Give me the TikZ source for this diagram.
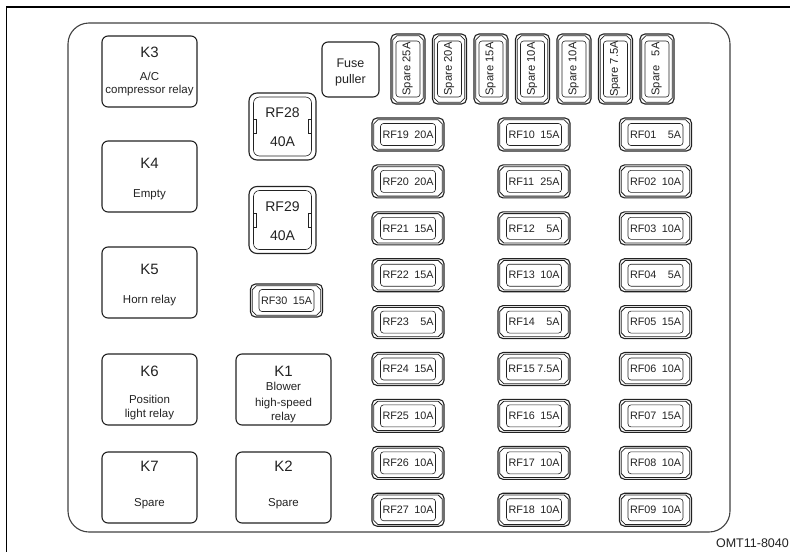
\documentclass[tikz,border=0pt]{standalone}
\usepackage{fontspec}
\setmainfont{Liberation Sans}
\usetikzlibrary{calc}
\definecolor{ink}{HTML}{222222}
\tikzset{
  relay/.style={draw=ink, line width=1.1pt, rounded corners=6pt, minimum width=95pt, minimum height=71pt, inner sep=0pt},
  klabel/.style={font=\fontsize{15}{16}\selectfont, inner sep=0pt, anchor=base, text=ink},
  desc/.style={font=\fontsize{11.5}{13}\selectfont, inner sep=0pt, anchor=base, text=ink},
  fuseout/.style={draw=ink, line width=1.1pt, rounded corners=5pt, inner sep=0pt},
  chamf/.style={draw=ink, line width=0.8pt},
  fusein/.style={draw=ink, line width=0.6pt, rounded corners=3pt, inner sep=0pt, text=ink},
  rftext/.style={font=\fontsize{10.8}{12}\selectfont},
  bigfuse/.style={draw=ink, line width=1.1pt, rounded corners=8pt, minimum width=67pt, minimum height=67pt, inner sep=0pt},
  bigin/.style={draw=ink, line width=0.6pt, rounded corners=6pt, minimum width=58pt, minimum height=59pt, inner sep=0pt},
  bigtext/.style={font=\fontsize{14}{15}\selectfont, inner sep=0pt, anchor=base, text=ink},
}
% horizontal fuse: name, x, y, left text, right text
\newcommand\rfuse[5]{%
  \node[fuseout, minimum width=72pt, minimum height=33pt] (#1) at (#2,#3) {};
  \draw[chamf, shift={(#1.center)}] (-30.2,-14.7) -- (30.2,-14.7) -- (34.2,-10.7) -- (34.2,10.7) -- (30.2,14.7) -- (-30.2,14.7) -- (-34.2,10.7) -- (-34.2,-10.7) -- cycle;
  \node[fusein, rftext, minimum width=55pt, minimum height=22pt] (#1t) at (#1.center) {\makebox[51pt]{#4\hspace{2.5pt plus 1fill}#5}};
}
% vertical spare fuse: name, x, text
\newcommand\sfuse[3]{%
  \node[fuseout, minimum width=34pt, minimum height=70pt] (#1) at (#2,69) {};
  \draw[chamf, shift={(#1.center)}] (-11.2,-33.2) -- (11.2,-33.2) -- (15.2,-29.2) -- (15.2,29.2) -- (11.2,33.2) -- (-11.2,33.2) -- (-15.2,29.2) -- (-15.2,-29.2) -- cycle;
  \node[fusein, minimum width=24pt, minimum height=56pt] (#1i) at (#1.center) {};
  \node[rotate=90, inner sep=0pt, text=ink, font=\fontsize{11.2}{12}\selectfont] (#1t) at (#1.center) {\makebox[53pt]{\strut Spare\hspace{3pt plus 1fill}#3}};
}
% big fuse: name, x, y
\newcommand\bfuse[3]{%
  \node[bigfuse] (#1) at (#2,#3) {};
  \node[bigin] (#1i) at (#1.center) {};
  \draw[ink, line width=0.6pt] ([yshift=-7pt]#1i.west) -- ++(3.5,0) -- ++(0,-14) -- ++(-3.5,0);
  \draw[ink, line width=0.6pt] ([yshift=-7pt]#1i.east) -- ++(-3.5,0) -- ++(0,-14) -- ++(3.5,0);
}
\begin{document}
\begin{tikzpicture}[x=1pt,y=-1pt]
\useasboundingbox (0,0) rectangle (790,552);
% frame lines
\coordinate (fa) at (790,7);
\coordinate (fb) at (6.5,7);
\coordinate (fc) at (6.5,552);
\draw[black, line width=1.3pt] (fa) -- (fb) -- (fc);
% outer housing
\node[draw=black!75, line width=1.1pt, rounded corners=21pt, minimum width=662pt, minimum height=509pt, inner sep=0pt] (box) at (399,277.5) {};

% relays
\node[relay] (K3) at (149.5,71.5) {};
\node[klabel] (K3a) at (149.5,57.5) {K3};
\node[desc] (K3b) at (149.5,80) {A/C};
\node[desc] (K3c) at (149.5,93) {compressor relay};

\node[relay] (K4) at (149.5,176.5) {};
\node[klabel] (K4a) at (149.5,168.5) {K4};
\node[desc] (K4b) at (149.5,197) {Empty};

\node[relay] (K5) at (149.5,282.5) {};
\node[klabel] (K5a) at (149.5,274.5) {K5};
\node[desc] (K5b) at (149.5,303) {Horn relay};

\node[relay] (K6) at (149.5,389.5) {};
\node[klabel] (K6a) at (149.5,376.5) {K6};
\node[desc] (K6b) at (149.5,403) {Position};
\node[desc] (K6c) at (149.5,417) {light relay};

\node[relay] (K7) at (149.5,487.5) {};
\node[klabel] (K7a) at (149.5,471.5) {K7};
\node[desc] (K7b) at (149.5,506) {Spare};

\node[relay] (K1) at (283.5,389.5) {};
\node[klabel] (K1a) at (283.5,376.5) {K1};
\node[desc] (K1b) at (283.5,390) {Blower};
\node[desc] (K1c) at (283.5,406) {high-speed};
\node[desc] (K1d) at (283.5,420) {relay};

\node[relay] (K2) at (283.5,487.5) {};
\node[klabel] (K2a) at (283.5,471.5) {K2};
\node[desc] (K2b) at (283.5,506) {Spare};

% fuse puller
\node[relay, minimum width=57pt, minimum height=55pt] (FP) at (350.5,69.5) {};
\node[desc, font=\fontsize{12.5}{14}\selectfont] (FPa) at (350.5,67) {Fuse};
\node[desc, font=\fontsize{12.5}{14}\selectfont] (FPb) at (350.5,83) {puller};

% spare fuses
\sfuse{S1}{408}{25A}
\sfuse{S2}{449.5}{20A}
\sfuse{S3}{491}{15A}
\sfuse{S4}{532.5}{10A}
\sfuse{S5}{574}{10A}
\sfuse{S6}{615.5}{7.5A}
\sfuse{S7}{657}{5A}

% big fuses
\bfuse{RF28}{282.5}{126.5}
\node[bigtext] (RF28a) at (282.5,117) {RF28};
\node[bigtext] (RF28b) at (282.5,146) {40A};
\bfuse{RF29}{282.5}{220}
\node[bigtext] (RF29a) at (282.5,211.5) {RF29};
\node[bigtext] (RF29b) at (282.5,240.5) {40A};
\rfuse{RF30}{286.5}{300.5}{RF30}{15A}

% RF columns
\rfuse{RF19}{408}{134.5}{RF19}{20A}
\rfuse{RF20}{408}{181.4}{RF20}{20A}
\rfuse{RF21}{408}{228.3}{RF21}{15A}
\rfuse{RF22}{408}{275.2}{RF22}{15A}
\rfuse{RF23}{408}{322.1}{RF23}{5A}
\rfuse{RF24}{408}{369.0}{RF24}{15A}
\rfuse{RF25}{408}{415.9}{RF25}{10A}
\rfuse{RF26}{408}{462.8}{RF26}{10A}
\rfuse{RF27}{408}{509.7}{RF27}{10A}

\rfuse{RF10}{534}{134.5}{RF10}{15A}
\rfuse{RF11}{534}{181.4}{RF11}{25A}
\rfuse{RF12}{534}{228.3}{RF12}{5A}
\rfuse{RF13}{534}{275.2}{RF13}{10A}
\rfuse{RF14}{534}{322.1}{RF14}{5A}
\rfuse{RF15}{534}{369.0}{RF15}{7.5A}
\rfuse{RF16}{534}{415.9}{RF16}{15A}
\rfuse{RF17}{534}{462.8}{RF17}{10A}
\rfuse{RF18}{534}{509.7}{RF18}{10A}

\rfuse{RF01}{655.5}{134.5}{RF01}{5A}
\rfuse{RF02}{655.5}{181.4}{RF02}{10A}
\rfuse{RF03}{655.5}{228.3}{RF03}{10A}
\rfuse{RF04}{655.5}{275.2}{RF04}{5A}
\rfuse{RF05}{655.5}{322.1}{RF05}{15A}
\rfuse{RF06}{655.5}{369.0}{RF06}{10A}
\rfuse{RF07}{655.5}{415.9}{RF07}{15A}
\rfuse{RF08}{655.5}{462.8}{RF08}{10A}
\rfuse{RF09}{655.5}{509.7}{RF09}{10A}

% code
\node[inner sep=0pt, anchor=base east, text=ink, font=\fontsize{12.5}{14}\selectfont] (code) at (789,547) {OMT11-8040};
\end{tikzpicture}
\end{document}
